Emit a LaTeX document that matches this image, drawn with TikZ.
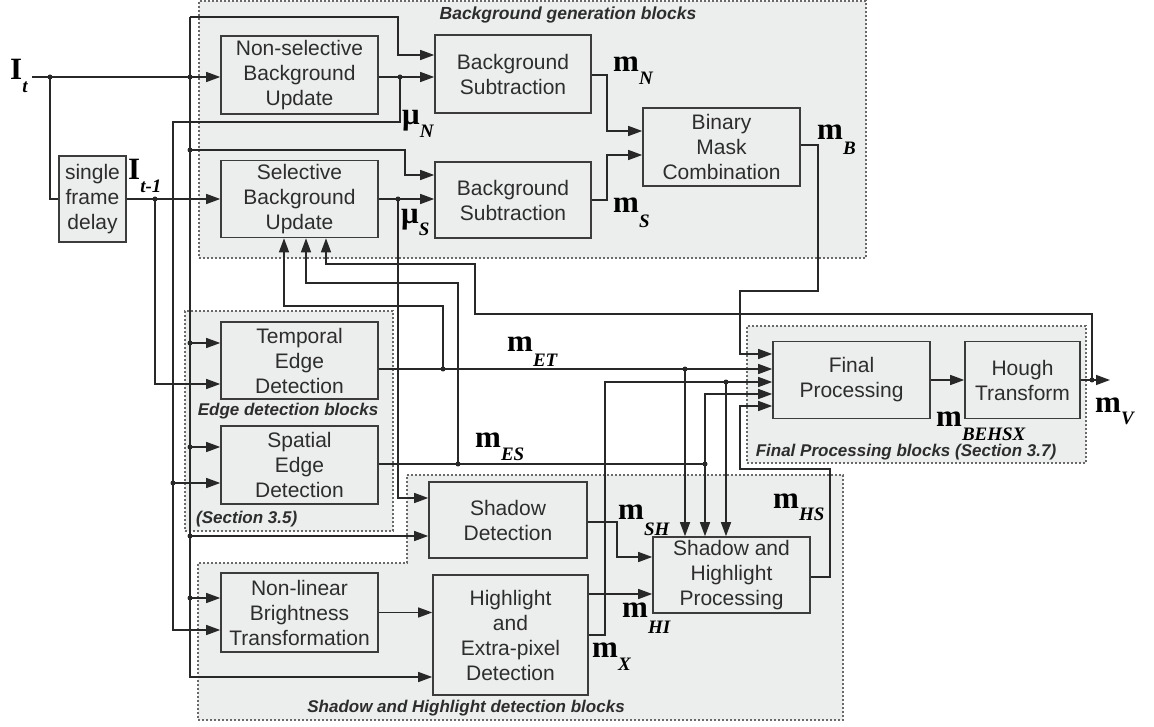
\documentclass[tikz,border=0pt]{standalone}
\usepackage{fontspec}
\setmainfont{Liberation Sans}
\newfontfamily\serifb{Liberation Serif}
\usetikzlibrary{arrows.meta}

\definecolor{bgc}{RGB}{236,237,237}
\definecolor{boxc}{RGB}{60,60,60}
\definecolor{wirec}{RGB}{40,40,40}
\definecolor{grpc}{RGB}{105,105,105}
\definecolor{txtc}{RGB}{45,45,45}

% bold upright symbol with a lowered bold-italic index
\newcommand{\msym}[3]{{\serifb\bfseries\fontsize{31}{31}\selectfont #1}\raisebox{-#3pt}{\serifb\bfseries\itshape\fontsize{19}{19}\selectfont #2}}

\tikzset{
  blk/.style={draw=boxc, line width=1.6pt, fill=bgc, align=center, inner sep=0pt,
              text=txtc, font=\fontsize{21}{25}\selectfont},
  grp/.style={draw=grpc, line width=1.5pt, dash pattern=on 1.8pt off 2.2pt, fill=bgc},
  grplbl/.style={font=\bfseries\itshape\fontsize{17}{17}\selectfont, text=txtc, inner sep=0pt},
  wire/.style={draw=wirec, line width=1.4pt},
  arr/.style={wire, -{Triangle[length=14pt,width=10pt]}},
  jdot/.style={circle, fill=wirec, inner sep=0pt, minimum size=5pt},
  sym/.style={inner sep=0pt, anchor=base west, text=black},
}

\begin{document}
\begin{tikzpicture}[x=1pt,y=-1pt]
\useasboundingbox (0,0) rectangle (1154,727);

% ---- block groups ----
\node[grp, minimum width=667pt, minimum height=257pt] (bggrp) at (532.5,129.5) {};
\node[grp, minimum width=208pt, minimum height=220pt] (edgrp) at (289,421) {};
\node[grp, minimum width=339pt, minimum height=137pt] (fpgrp) at (916.5,394.5) {};
\draw[grp] (407,475) -- (843,475) -- (843,720) -- (198,720) -- (198,563) -- (407,563) -- cycle;

\node[grplbl] (lbg) at (568,15) {\fontsize{17.5}{17.5}\selectfont Background generation blocks};
\node[grplbl] (led) at (288,411) {Edge detection blocks};
\node[grplbl, anchor=west] (lsec) at (196,519) {(Section 3.5)};
\node[grplbl] (lsh) at (466,708) {Shadow and Highlight detection blocks};
\node[grplbl] (lfp) at (906,452) {Final Processing blocks (Section 3.7)};

% ---- processing blocks ----
\node[blk, minimum width=67pt, minimum height=86pt] (sfd) at (92.5,199) {single\\frame\\delay};
\node[blk, minimum width=157pt, minimum height=78pt] (nsbu) at (299.5,75) {Non-selective\\Background\\Update};
\node[blk, minimum width=157pt, minimum height=77pt] (sbu) at (299.5,199) {Selective\\Background\\Update};
\node[blk, minimum width=156pt, minimum height=78pt] (bs1) at (513,74) {Background\\Subtraction};
\node[blk, minimum width=156pt, minimum height=76pt] (bs2) at (513,200) {Background\\Subtraction};
\node[blk, minimum width=157pt, minimum height=78pt] (bmc) at (721.5,147) {Binary\\Mask\\Combination};
\node[blk, minimum width=157pt, minimum height=77pt] (ted) at (299.5,360.5) {Temporal\\Edge\\Detection};
\node[blk, minimum width=157pt, minimum height=78pt] (sed) at (299.5,465) {Spatial\\Edge\\Detection};
\node[blk, minimum width=158pt, minimum height=76pt] (sd) at (508,520) {Shadow\\Detection};
\node[blk, minimum width=157pt, minimum height=79pt] (nlbt) at (299.5,612.5) {Non-linear\\Brightness\\Transformation};
\node[blk, minimum width=155pt, minimum height=120pt] (hepd) at (510.5,635) {Highlight\\and\\Extra-pixel\\Detection};
\node[blk, minimum width=157pt, minimum height=76pt] (shp) at (731.5,575) {Shadow and\\Highlight\\Processing};
\node[blk, minimum width=157pt, minimum height=77pt] (fp) at (851.5,380) {Final\\Processing};
\node[blk, minimum width=115pt, minimum height=77pt] (ht) at (1022.5,380) {Hough\\Transform};

% ---- junctions and bends ----
\coordinate (itin) at (32,77);
\coordinate (dA) at (50,77);
\coordinate (dB) at (190,77);
\coordinate (topc) at (190,17);
\coordinate (busend) at (190,677);
\coordinate (c1b) at (398,55);
\coordinate (dC) at (190,150);
\coordinate (c2b) at (405,175);
\coordinate (dD) at (190,343);
\coordinate (dE) at (190,447);
\coordinate (dF) at (190,536);
\coordinate (dG) at (190,598);
\coordinate (dH) at (155,199);
\coordinate (c3) at (155,384);
\coordinate (dI) at (400,77);
\coordinate (c4) at (400,122);
\coordinate (c5) at (173,122);
\coordinate (c6) at (173,630);
\coordinate (dJ) at (173,483);
\coordinate (dK) at (398,199);
\coordinate (c7) at (398,498);
\coordinate (c8) at (607,75);
\coordinate (c9) at (607,131);
\coordinate (c10) at (607,200);
\coordinate (c11) at (607,155);
\coordinate (c12) at (818,145);
\coordinate (c13) at (818,291);
\coordinate (c14) at (740,291);
\coordinate (c15) at (740,354);
\coordinate (dL) at (443,369);
\coordinate (dM) at (685,369);
\coordinate (c17) at (443,306);
\coordinate (c18) at (284,306);
\coordinate (dN) at (458,464);
\coordinate (dO) at (705,464);
\coordinate (c19) at (458,283);
\coordinate (c20) at (306,283);
\coordinate (c21) at (705,394);
\coordinate (c22) at (605,635);
\coordinate (c23) at (605,382);
\coordinate (dP) at (726,382);
\coordinate (c24) at (830,577);
\coordinate (c25) at (830,469);
\coordinate (c26) at (740,469);
\coordinate (c27) at (740,406);
\coordinate (dQ) at (1092,380);
\coordinate (mvend) at (1110,380);
\coordinate (c29) at (1092,314);
\coordinate (c30) at (475,314);
\coordinate (c31) at (475,264);
\coordinate (c32) at (326,264);
\coordinate (c33) at (617,522);
\coordinate (c34) at (617,557);
\coordinate (c35) at (620,594);

% ---- connectors ----
% current frame
\draw[arr] (itin) -- (nsbu.west |- itin);
\draw[wire] (dA) |- (sfd.west);
\draw[arr] (topc) -- (busend) -- (hepd.west |- busend);
\draw[arr] (topc) -| (c1b) -- (bs1.west |- c1b);
\draw[arr] (dC) -| (c2b) -- (bs2.west |- c2b);
\draw[arr] (dD) -- (ted.west |- dD);
\draw[arr] (dE) -- (sed.west |- dE);
\draw[arr] (dF) -- (sd.west |- dF);
\draw[arr] (dG) -- (nlbt.west |- dG);
% previous frame
\draw[arr] (sfd.east) -- (sbu.west);
\draw[arr] (dH) -- (c3) -- (ted.west |- c3);
% non-selective background
\draw[arr] (nsbu.east |- itin) -- (bs1.west |- itin);
\draw[arr] (dI) -- (c4) -- (c5) -- (c6) -- (nlbt.west |- c6);
\draw[arr] (dJ) -- (sed.west |- dJ);
% selective background
\draw[arr] (sbu.east) -- (bs2.west |- sbu.east);
\draw[arr] (dK) -- (c7) -- (sd.west |- c7);
% subtraction masks
\draw[arr] (bs1.east |- c8) -- (c8) -- (c9) -- (bmc.west |- c9);
\draw[arr] (bs2.east |- c10) -- (c10) -- (c11) -- (bmc.west |- c11);
\draw[arr] (bmc.east |- c12) -- (c12) -- (c13) -- (c14) -- (c15) -- (fp.west |- c15);
% edge masks
\draw[arr] (ted.east |- dL) -- (fp.west |- dL);
\draw[arr] (dL) -- (c17) -- (c18) -- (sbu.south -| c18);
\draw[wire] (sed.east |- dN) -- (dO);
\draw[arr] (dN) -- (c19) -- (c20) -- (sbu.south -| c20);
\draw[arr] (dO) -- (c21) -- (fp.west |- c21);
\draw[arr] (dO) -- (shp.north -| dO);
\draw[arr] (dM) -- (shp.north -| dM);
% extra pixels
\draw[arr] (hepd.east |- c22) -- (c22) -- (c23) -- (fp.west |- c23);
\draw[arr] (dP) -- (shp.north -| dP);
% shadow / highlight
\draw[arr] (shp.east |- c24) -- (c24) -- (c25) -- (c26) -- (c27) -- (fp.west |- c27);
\draw[arr] (sd.east |- c33) -- (c33) -- (c34) -- (shp.west |- c34);
\draw[arr] (hepd.east |- c35) -- (shp.west |- c35);
\draw[arr] (nlbt.east) -- (hepd.west |- nlbt.east);
% final stage and feedback
\draw[arr] (fp.east) -- (ht.west);
\draw[arr] (ht.east) -- (mvend);
\draw[arr] (dQ) -- (c29) -- (c30) -- (c31) -- (c32) -- (sbu.south -| c32);

% junction dots
\foreach \p in {dA,dB,dC,dD,dE,dF,dG,dH,dI,dJ,dK,dL,dM,dN,dO,dP,dQ}
  \node[jdot] at (\p) {};

% ---- signal labels ----
\node[sym] (lIt) at (10,80) {\msym{I}{t}{13}};
\node[sym] (lIt1) at (128,180) {\msym{I}{t-1}{13}};
\node[sym] (lmN) at (613,72) {\msym{m}{N}{13}};
\node[sym] (lmS) at (613,213) {\msym{m}{S}{15}};
\node[sym] (lmuN) at (402,125) {\msym{μ}{N}{13}};
\node[sym] (lmuS) at (401,224) {\msym{μ}{S}{12}};
\node[sym] (lmB) at (817,140) {\msym{m}{B}{15}};
\node[sym] (lmET) at (507,352) {\msym{m}{ET}{15}};
\node[sym] (lmES) at (475,447) {\msym{m}{ES}{13}};
\node[sym] (lmSH) at (618,519) {\msym{m}{SH}{16}};
\node[sym] (lmHI) at (622,617) {\msym{m}{HI}{16}};
\node[sym] (lmX) at (592,657) {\msym{m}{X}{13}};
\node[sym] (lmHS) at (773,508) {\msym{m}{HS}{12}};
\node[sym] (lmBE) at (936,426) {\msym{m}{BEHSX}{14}};
\node[sym] (lmV) at (1095,412) {\msym{m}{V}{12}};
\end{tikzpicture}
\end{document}
